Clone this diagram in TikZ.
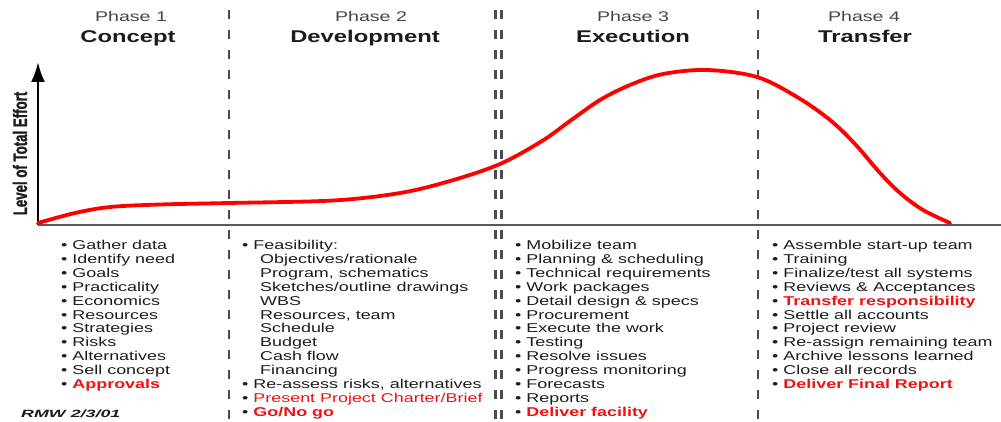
\documentclass[tikz,border=0pt]{standalone}
\usepackage{fontspec}
\setmainfont{Liberation Sans}[FakeStretch=1.4]
\newfontfamily\axisfont{Liberation Sans}[FakeStretch=0.68, BoldFeatures={FakeBold=1.2}]
\newfontfamily\sigfont{Liberation Sans}[FakeStretch=1.7]
\usetikzlibrary{arrows.meta}
\definecolor{inkgray}{RGB}{28,28,28}
\definecolor{phasegray}{RGB}{70,70,70}
\definecolor{hot}{RGB}{240,18,18}
\definecolor{divider}{RGB}{75,75,75}
\newcommand{\hl}[1]{\textcolor{hot}{\bfseries #1}}
\newcommand{\hlplain}[1]{\textcolor{hot}{#1}}
\begin{document}
\begin{tikzpicture}[x=1pt,y=-1pt,
  item/.style={anchor=base west, inner sep=0pt, font=\fontsize{12.8}{14}\selectfont, text=inkgray},
  phase/.style={anchor=base, inner sep=0pt, font=\fontsize{14}{16}\selectfont, text=phasegray},
  title/.style={anchor=base, inner sep=0pt, font=\fontsize{17}{20}\bfseries\selectfont, text=inkgray},
  divide/.style={draw=divider, line width=2.2pt, dash pattern=on 9pt off 11pt},
  effort/.style={draw=red, line width=3.8pt, line cap=round, line join=round}]
\useasboundingbox (0,0) rectangle (1001,422);

% phase dividers
\coordinate (d1t) at (229,10);   \coordinate (d1b) at (229,422);
\coordinate (d2t) at (495.5,10); \coordinate (d2b) at (495.5,422);
\coordinate (d3t) at (501.5,10); \coordinate (d3b) at (501.5,422);
\coordinate (d4t) at (758,10);   \coordinate (d4b) at (758,422);
\draw[divide] (d1t) -- (d1b);
\draw[divide] (d2t) -- (d2b);
\draw[divide] (d3t) -- (d3b);
\draw[divide] (d4t) -- (d4b);

% axes
\coordinate (origin) at (38,225);
\coordinate (xend) at (1001,225);
\coordinate (ytop) at (38,62);
\draw[line width=1.6pt, draw=black!65] (origin) -- (xend);
\draw[line width=2.6pt, -{Latex[length=20pt,width=14pt]}] (origin) -- (ytop);
\node[rotate=90, inner sep=0pt, font=\axisfont\fontsize{19.5}{22}\bfseries\selectfont, text=inkgray]
  (ylabel) at (20,153.5) {Level of Total Effort};

% effort curve
\draw[effort] plot[smooth, tension=0.55] coordinates {
  (38,223) (75,213) (110,207) (160,204.5) (229,203) (333,200.5) (400,193)
  (450,181) (500,164) (542,141) (570,121) (600,100) (630,85)
  (663,74) (707,70) (757,77) (797,97) (830,120) (855,144)
  (880,173) (900,193) (923,210) (950,223)};

% phase headings
\node[phase] (p1) at (131,22) {Phase 1};
\node[title] (t1) at (128,43) {Concept};
\node[phase] (p2) at (371,22) {Phase 2};
\node[title] (t2) at (365,43) {Development};
\node[phase] (p3) at (633,22) {Phase 3};
\node[title] (t3) at (633,43) {Execution};
\node[phase] (p4) at (864,22) {Phase 4};
\node[title] (t4) at (865,43) {Transfer};

% phase 1 tasks
\foreach \t [count=\i] in {Gather data, Identify need, Goals, Practicality, Economics,
    Resources, Strategies, Risks, Alternatives, Sell concept, \hl{Approvals}}
  \node[item] (ca\i) at (61,{249.5+13.9*(\i-1)}) {• \t};

% phase 2 tasks
\node[item] (cb1) at (242,249.5) {• Feasibility:};
\foreach \t [count=\i from 2] in {{Objectives/rationale}, {Program, schematics},
    {Sketches/outline drawings}, WBS, {Resources, team}, Schedule, Budget,
    Cash flow, Financing}
  \node[item] (cb\i) at (260,{249.5+13.9*(\i-1)}) {\t};
\foreach \t [count=\i from 11] in {{Re-assess risks, alternatives},
    {\hlplain{Present Project Charter/Brief}}, {\hl{Go/No go}}}
  \node[item] (cb\i) at (242,{249.5+13.9*(\i-1)}) {• \t};

% phase 3 tasks
\foreach \t [count=\i] in {Mobilize team, Planning \& scheduling, Technical requirements,
    Work packages, Detail design \& specs, Procurement, Execute the work, Testing,
    Resolve issues, Progress monitoring, Forecasts, Reports, \hl{Deliver facility}}
  \node[item] (cc\i) at (515,{249.5+13.9*(\i-1)}) {• \t};

% phase 4 tasks
\foreach \t [count=\i] in {Assemble start-up team, Training, {Finalize/test all systems},
    Reviews \& Acceptances, \hl{Transfer responsibility}, Settle all accounts,
    Project review, Re-assign remaining team, Archive lessons learned,
    Close all records, \hl{Deliver Final Report}}
  \node[item] (cd\i) at (772,{249.5+13.9*(\i-1)}) {• \t};

% signature
\node[anchor=base west, inner sep=0pt, font=\sigfont\fontsize{10.5}{12}\bfseries\itshape\selectfont,
  text=inkgray] (sig) at (21,417) {RMW 2/3/01};
\end{tikzpicture}
\end{document}
